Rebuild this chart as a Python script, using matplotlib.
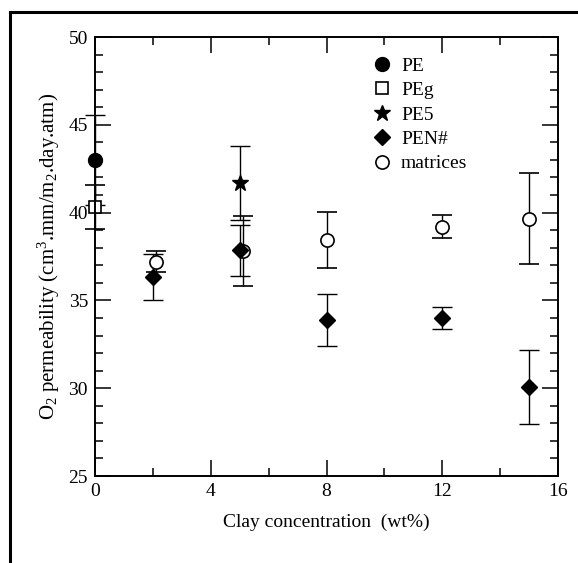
import matplotlib
matplotlib.use("Agg")
import matplotlib.pyplot as plt
from matplotlib.lines import Line2D

# values
pe_x = [0]
pe_y = [43.0]
pe_err = [2.55]

peg_x = [0]
peg_y = [40.3]
peg_err = [1.25]

pe5_x = [5]
pe5_y = [41.7]
pe5_err = [2.1]

pen_x = [2, 5, 8, 12, 15]
pen_y = [36.35, 37.85, 33.88, 34.0, 30.07]
pen_err = [1.3, 1.45, 1.5, 0.63, 2.13]

mat_x = [2.1, 5.1, 8, 12, 15]
mat_y = [37.2, 37.8, 38.45, 39.2, 39.65]
mat_err = [0.6, 2.0, 1.58, 0.65, 2.6]

labels = ['PE', 'PEg', 'PE5', 'PEN#', 'matrices']

plt.rcParams['font.family'] = ['Liberation Serif', 'DejaVu Serif']
plt.rcParams['mathtext.fontset'] = 'custom'
plt.rcParams['mathtext.rm'] = 'Liberation Serif'
plt.rcParams['mathtext.it'] = 'Liberation Serif:italic'

fig = plt.figure(figsize=(5.78, 5.63), dpi=100)

# outer frame (top and left lines)
fig.add_artist(Line2D([10/578, 10/578], [0, 1-12/563], color='black', lw=2.2, transform=fig.transFigure))
fig.add_artist(Line2D([10/578, 1], [1-12/563, 1-12/563], color='black', lw=2.2, transform=fig.transFigure))

ax = fig.add_axes([95/578, 87/563, 463/578, 439/563])

eb = dict(ecolor='black', elinewidth=1.0, capsize=7, capthick=1.0, linestyle='none')
ax.errorbar(mat_x, mat_y, yerr=mat_err, fmt='o', ms=9.5, mfc='white', mec='black', mew=1.2, **eb)
ax.errorbar(pen_x, pen_y, yerr=pen_err, fmt='D', ms=8, mfc='black', mec='black', **eb)
ax.errorbar(pe5_x, pe5_y, yerr=pe5_err, fmt='*', ms=12, mfc='black', mec='black', **eb)
ax.errorbar(peg_x, peg_y, yerr=peg_err, fmt='s', ms=8.5, mfc='white', mec='black', mew=1.2, clip_on=False, **eb)
ax.errorbar(pe_x, pe_y, yerr=pe_err, fmt='o', ms=10, mfc='black', mec='black', clip_on=False, **eb)

ax.set_xlim(0, 16)
ax.set_ylim(25, 50)
ax.set_xticks([0, 4, 8, 12, 16])
ax.set_xticks([2, 6, 10, 14], minor=True)
ax.set_yticks([25, 30, 35, 40, 45, 50])
ax.set_yticks(range(25, 51), minor=True)
ax.tick_params(which='both', direction='in', top=True, right=True, labelsize=14, width=1.1)
ax.tick_params(which='major', length=11.5, pad=5)
ax.tick_params(which='minor', length=5.8)
for s in ax.spines.values():
    s.set_linewidth(1.4)

ax.set_xlabel('Clay concentration  (wt%)', fontsize=14, labelpad=10)
ax.set_ylabel(r'O$_2$ permeability (cm$^3$.mm/m$_2$.day.atm)', fontsize=15, labelpad=5)

handles = [
    Line2D([], [], marker='o', ls='none', ms=10, mfc='black', mec='black'),
    Line2D([], [], marker='s', ls='none', ms=9, mfc='white', mec='black', mew=1.2),
    Line2D([], [], marker='*', ls='none', ms=12, mfc='black', mec='black'),
    Line2D([], [], marker='D', ls='none', ms=8, mfc='black', mec='black'),
    Line2D([], [], marker='o', ls='none', ms=9.5, mfc='white', mec='black', mew=1.2),
]
ax.legend(handles, labels, loc='upper left', bbox_to_anchor=(0.56, 0.985), frameon=False,
          fontsize=14, handlelength=1.5, handletextpad=0.2, labelspacing=0.35, borderpad=0.2)

fig.savefig('out.png', dpi=100)
